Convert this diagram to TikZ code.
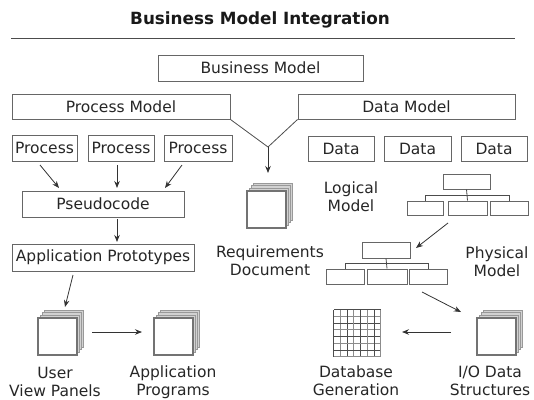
\documentclass[tikz,border=0pt]{standalone}
\usepackage{fontspec}
\setmainfont{DejaVu Sans}
\usetikzlibrary{arrows.meta,calc}
\begin{document}
\begin{tikzpicture}[x=1pt,y=-1pt,
  txt/.style={font=\fontsize{15.5}{18}\selectfont, text=black!85, inner sep=0pt},
  box/.style={txt, draw=black!60, line width=1pt, fill=white},
  tbox/.style={draw=black!60, line width=1pt, fill=white, inner sep=0pt},
  lbl/.style={txt, align=center},
  arr/.style={-{Stealth[length=7pt,width=5.5pt]}, line width=0.8pt, draw=black!80},
  conn/.style={line width=0.8pt, draw=black!70},
  stackicon/.pic={
    \foreach \k in {3,2,1}
      \node[draw=gray!80, fill=gray!35, line width=0.8pt, minimum width=39pt, minimum height=37pt, inner sep=0pt] at ({2*\k},{-2.6*\k}) {};
    \node[draw=gray!90!black, fill=white, line width=1.3pt, minimum width=39pt, minimum height=37pt, inner sep=0pt] (-front) at (0,0) {};
  }]
\useasboundingbox (0,0) rectangle (534,399);

% title and rule
\node[font=\fontsize{16.8}{20}\bfseries, text=black!90, inner sep=0pt] (title) at (260,20) {Business Model Integration};
\coordinate (rl) at (11,38);
\coordinate (rr) at (515,38);
\draw[line width=0.8pt, black!70] (rl) -- (rr);

% top boxes
\node[box, minimum width=205pt, minimum height=26pt] (bm) at (260.5,68) {Business Model};
\node[box, minimum width=218pt, minimum height=25pt] (pm) at (121,106.5) {Process Model};
\node[box, minimum width=217pt, minimum height=25pt] (dm) at (406.5,106.5) {Data Model};

% process side
\node[box, minimum width=65pt, minimum height=26pt] (p1) at (44.5,148) {Process};
\node[box, minimum width=66pt, minimum height=26pt] (p2) at (121,148) {Process};
\node[box, minimum width=68pt, minimum height=26pt] (p3) at (198,148) {Process};
\node[box, minimum width=162pt, minimum height=26pt] (pseudo) at (103,204) {Pseudocode};
\node[box, minimum width=182pt, minimum height=27pt] (app) at (103,257.5) {Application Prototypes};

% data side
\node[box, minimum width=66pt, minimum height=25pt] (d1) at (341,148.5) {Data};
\node[box, minimum width=67pt, minimum height=25pt] (d2) at (417.5,148.5) {Data};
\node[box, minimum width=66pt, minimum height=25pt] (d3) at (494,148.5) {Data};

% logical model tree
\node[lbl] (logical) at (351,197) {Logical\\Model};
\node[tbox, minimum width=47pt, minimum height=15pt] (lt) at (466.5,181.5) {};
\node[tbox, minimum width=36pt, minimum height=14pt] (lb1) at (425,208) {};
\node[tbox, minimum width=39pt, minimum height=14pt] (lb2) at (467.5,208) {};
\node[tbox, minimum width=38pt, minimum height=14pt] (lb3) at (509,208) {};
\draw[conn] (lt.south) -- (lb2.north);
\draw[conn] (lb1.north) -- ++(0,-5) -| (lb3.north);

% physical model tree
\node[lbl] (physical) at (497,262) {Physical\\Model};
\node[tbox, minimum width=48pt, minimum height=16pt] (pt) at (386,250) {};
\node[tbox, minimum width=38pt, minimum height=15pt] (pb1) at (345,276.5) {};
\node[tbox, minimum width=40pt, minimum height=15pt] (pb2) at (387,276.5) {};
\node[tbox, minimum width=38pt, minimum height=15pt] (pb3) at (428,276.5) {};
\draw[conn] (pt.south) -- (pb2.north);
\draw[conn] (pb1.north) -- ++(0,-5) -| (pb3.north);

% stack icons
\pic (req) at (266.5,209.5) {stackicon};
\pic (uvp) at (57.5,336.5) {stackicon};
\pic (ap) at (173.5,336.5) {stackicon};
\pic (io) at (496.5,336.5) {stackicon};

% database grid
\node[inner sep=0pt, minimum width=47pt, minimum height=47pt] (db) at (357.5,333.5) {};
\foreach \i in {0,...,7} {
  \pgfmathsetmacro{\c}{ifthenelse(mod(\i,2)==0,70,45)}
  \draw[line width=1pt, black!\c] ($(db.north west)+({\i*47/7},0)$) -- ($(db.south west)+({\i*47/7},0)$);
  \draw[line width=1pt, black!\c] ($(db.north west)+(0,{\i*47/7})$) -- ($(db.north east)+(0,{\i*47/7})$);
}

% labels
\node[lbl] (reqlbl) at (270,261) {Requirements\\Document};
\node[lbl] (uvplbl) at (55,382) {User\\View Panels};
\node[lbl] (aplbl) at (173,382) {Application\\Programs};
\node[lbl] (dblbl) at (356,381) {Database\\Generation};
\node[lbl] (iolbl) at (490,381) {I/O Data\\Structures};

% V connector
\coordinate (v) at (268,147);
\draw[conn] (pm.south east) -- (v) -- (dm.south west);
\coordinate (vt) at (268,173);
\draw[arr] (v) -- (vt);

% arrows
\coordinate (a1s) at (40,165);   \coordinate (a1e) at (59,188);
\coordinate (a2s) at (117,165);  \coordinate (a2e) at (117,188);
\coordinate (a3s) at (182,165);  \coordinate (a3e) at (165,188);
\coordinate (a4s) at (117,219);  \coordinate (a4e) at (117,242);
\coordinate (a5s) at (73,275);   \coordinate (a5e) at (65,307);
\coordinate (a6s) at (92,332);   \coordinate (a6e) at (142,332);
\coordinate (a7s) at (448,223);  \coordinate (a7e) at (416,248);
\coordinate (a8s) at (422,292);  \coordinate (a8e) at (461,312);
\coordinate (a9s) at (451,332);  \coordinate (a9e) at (402,332);
\draw[arr] (a1s) -- (a1e);
\draw[arr] (a2s) -- (a2e);
\draw[arr] (a3s) -- (a3e);
\draw[arr] (a4s) -- (a4e);
\draw[arr] (a5s) -- (a5e);
\draw[arr] (a6s) -- (a6e);
\draw[arr] (a7s) -- (a7e);
\draw[arr] (a8s) -- (a8e);
\draw[arr] (a9s) -- (a9e);
\end{tikzpicture}
\end{document}
